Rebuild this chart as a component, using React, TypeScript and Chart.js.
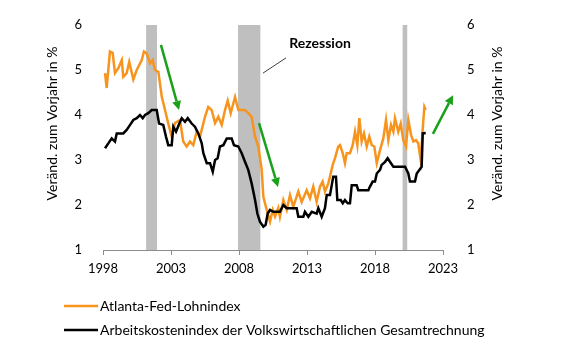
import React, { useEffect, useRef } from "react";
import { Chart, registerables } from "chart.js";

Chart.register(...registerables);

// Atlanta-Fed-Lohnindex (year, % y/y)
const atlYears = [1998.15, 1998.27, 1998.51, 1998.71, 1998.88, 1999.13, 1999.38, 1999.49, 1999.74, 1999.93, 2000.23, 2000.48, 2000.85, 2001.01, 2001.21, 2001.46, 2001.65, 2001.82, 2002.07, 2002.32, 2002.56, 2002.8, 2003.05, 2003.29, 2003.66, 2003.9, 2004.15, 2004.4, 2004.64, 2004.89, 2005.13, 2005.5, 2005.74, 2005.99, 2006.24, 2006.48, 2006.73, 2006.97, 2007.17, 2007.39, 2007.71, 2007.95, 2008.2, 2008.44, 2008.68, 2008.93, 2009.18, 2009.42, 2009.67, 2009.79, 2010.04, 2010.28, 2010.48, 2010.65, 2010.89, 2011.01, 2011.26, 2011.51, 2011.75, 2011.99, 2012.36, 2012.61, 2012.98, 2013.22, 2013.46, 2013.71, 2013.96, 2014.15, 2014.32, 2014.57, 2014.69, 2014.89, 2015.06, 2015.3, 2015.43, 2015.63, 2015.79, 2015.92, 2016.16, 2016.36, 2016.53, 2016.7, 2016.85, 2017.02, 2017.19, 2017.39, 2017.58, 2017.76, 2017.95, 2018.13, 2018.37, 2018.61, 2018.81, 2018.98, 2019.18, 2019.35, 2019.47, 2019.71, 2019.89, 2020.08, 2020.28, 2020.45, 2020.65, 2020.82, 2021.01, 2021.18, 2021.36, 2021.51, 2021.63, 2021.73];
const atlValues = [4.93, 4.6, 5.41, 5.38, 4.93, 5.04, 5.22, 4.85, 4.93, 5.18, 4.79, 5.0, 5.22, 5.41, 5.37, 5.15, 5.22, 5.0, 4.96, 4.41, 4.11, 3.81, 3.52, 3.82, 3.89, 3.41, 3.3, 3.41, 3.33, 3.63, 3.52, 3.96, 4.18, 4.11, 3.82, 3.96, 3.78, 4.11, 4.32, 4.04, 4.4, 4.11, 4.11, 4.11, 4.04, 3.96, 3.52, 3.3, 2.78, 2.18, 1.89, 1.63, 1.89, 1.74, 1.93, 1.74, 2.11, 1.89, 2.22, 1.96, 2.3, 2.07, 2.33, 2.15, 2.41, 2.07, 2.41, 2.52, 2.3, 2.48, 2.63, 2.89, 3.04, 3.3, 3.33, 3.15, 2.93, 3.15, 3.15, 3.33, 3.63, 3.33, 3.93, 3.41, 3.59, 3.3, 3.52, 3.33, 3.3, 2.93, 3.22, 3.48, 3.89, 3.44, 3.78, 3.63, 3.93, 3.63, 3.81, 3.44, 3.3, 3.89, 3.56, 3.41, 3.44, 3.37, 3.0, 3.7, 4.18, 4.11];

// Arbeitskostenindex der VGR (year, % y/y)
const ecYears = [1998.15, 1998.39, 1998.64, 1998.88, 1999.01, 1999.49, 1999.74, 1999.99, 2000.23, 2000.48, 2000.72, 2000.92, 2001.09, 2001.33, 2001.58, 2001.95, 2002.12, 2002.43, 2002.63, 2002.8, 2003.05, 2003.17, 2003.37, 2003.61, 2003.79, 2004.03, 2004.23, 2004.52, 2004.76, 2005.01, 2005.26, 2005.38, 2005.63, 2005.87, 2006.07, 2006.24, 2006.43, 2006.6, 2006.85, 2007.1, 2007.46, 2007.63, 2007.95, 2008.2, 2008.44, 2008.68, 2008.93, 2009.18, 2009.35, 2009.54, 2009.79, 2009.96, 2010.11, 2010.28, 2010.52, 2011.01, 2011.26, 2011.51, 2012.24, 2012.36, 2012.73, 2012.85, 2013.1, 2013.35, 2013.71, 2013.83, 2014.08, 2014.32, 2014.45, 2014.69, 2014.93, 2015.13, 2015.23, 2015.48, 2015.63, 2015.79, 2015.99, 2016.16, 2016.29, 2016.65, 2016.77, 2017.51, 2017.63, 2017.83, 2018.0, 2018.13, 2018.37, 2018.49, 2018.74, 2018.93, 2019.1, 2019.35, 2020.21, 2020.45, 2020.57, 2020.94, 2021.07, 2021.26, 2021.43, 2021.51, 2021.73];
const ecValues = [3.26, 3.37, 3.48, 3.41, 3.59, 3.59, 3.67, 3.78, 3.89, 3.93, 4.0, 3.93, 4.0, 4.04, 4.11, 4.11, 3.81, 3.78, 3.52, 3.33, 3.33, 3.74, 3.63, 3.81, 3.93, 3.85, 3.93, 3.81, 3.74, 3.59, 3.37, 3.15, 2.93, 2.93, 2.74, 3.0, 3.04, 3.3, 3.33, 3.48, 3.48, 3.33, 3.3, 3.15, 2.96, 2.78, 2.48, 2.11, 1.81, 1.63, 1.52, 1.56, 1.81, 1.89, 1.85, 1.85, 2.0, 1.93, 1.93, 1.74, 1.74, 1.85, 1.74, 1.85, 1.81, 1.93, 1.74, 1.93, 2.22, 2.22, 2.63, 2.63, 2.11, 2.11, 2.04, 2.11, 2.04, 2.04, 2.44, 2.44, 2.33, 2.33, 2.41, 2.52, 2.52, 2.7, 2.78, 2.89, 2.96, 3.04, 2.96, 2.85, 2.85, 2.7, 2.52, 2.52, 2.7, 2.78, 2.85, 3.59, 3.6];

const recessionStarts = [2001.17, 2007.93, 2020.03];
const recessionEnds = [2001.97, 2009.57, 2020.37];

const xMin = 1998;
const xMax = 2023;
const yMin = 1;
const yMax = 6;

// arrows: [x0, y0, x1, y1] in data units
const arrows = [
  [2002.26, 5.56, 2003.59, 4.11],
  [2009.47, 3.82, 2010.87, 2.4],
  [2022.26, 3.58, 2023.74, 4.44],
];
const annotationLabel = "Rezession";
const annotationPos = [2013.96, 5.58];
const leaderLine = [2009.76, 4.93, 2011.46, 5.27];

const axisTitle = "Veränd. zum Vorjahr in %";
const seriesNames = ["Atlanta-Fed-Lohnindex", "Arbeitskostenindex der Volkswirtschaftlichen Gesamtrechnung"];
const seriesColors = ["#F7941D", "#000000"];

const FONT = "Lato, 'Open Sans', sans-serif";

export default function App() {
  const ref = useRef<HTMLCanvasElement | null>(null);
  useEffect(() => {
    document.body.style.margin = "0";
    const canvas = ref.current!;
    const overlay = {
      id: "overlay",
      beforeDatasetsDraw(chart: any) {
        const { ctx, chartArea, scales } = chart;
        const x = scales.x;
        ctx.save();
        ctx.fillStyle = "#BFBFBF";
        for (let i = 0; i < recessionStarts.length; i++) {
          const a = x.getPixelForValue(recessionStarts[i]);
          const b = x.getPixelForValue(recessionEnds[i]);
          ctx.fillRect(a, chartArea.top, b - a, chartArea.bottom - chartArea.top);
        }
        ctx.restore();
      },
      afterDraw(chart: any) {
        const { ctx, scales, chartArea } = chart;
        const x = scales.x;
        const y = scales.y;
        ctx.save();
        // arrows
        ctx.strokeStyle = "#1AA01A";
        ctx.fillStyle = "#1AA01A";
        ctx.lineWidth = 2.5;
        for (const [a0, b0, a1, b1] of arrows) {
          const x0 = x.getPixelForValue(a0), y0 = y.getPixelForValue(b0);
          const x1 = x.getPixelForValue(a1), y1 = y.getPixelForValue(b1);
          const ang = Math.atan2(y1 - y0, x1 - x0);
          const hl = 9, hw = 4.5;
          const bx = x1 - hl * Math.cos(ang), by = y1 - hl * Math.sin(ang);
          ctx.beginPath();
          ctx.moveTo(x0, y0);
          ctx.lineTo(bx, by);
          ctx.stroke();
          ctx.beginPath();
          ctx.moveTo(x1, y1);
          ctx.lineTo(bx + hw * Math.sin(ang), by - hw * Math.cos(ang));
          ctx.lineTo(bx - hw * Math.sin(ang), by + hw * Math.cos(ang));
          ctx.closePath();
          ctx.fill();
        }
        // leader line
        ctx.strokeStyle = "#404040";
        ctx.lineWidth = 1;
        ctx.beginPath();
        ctx.moveTo(x.getPixelForValue(leaderLine[0]), y.getPixelForValue(leaderLine[1]));
        ctx.lineTo(x.getPixelForValue(leaderLine[2]), y.getPixelForValue(leaderLine[3]));
        ctx.stroke();
        // annotation
        ctx.fillStyle = "#000";
        ctx.font = `bold 14px ${FONT}`;
        ctx.textAlign = "center";
        ctx.textBaseline = "middle";
        ctx.fillText(annotationLabel, x.getPixelForValue(annotationPos[0]), y.getPixelForValue(annotationPos[1]));
        // axis titles
        ctx.font = `14px ${FONT}`;
        const midY = (chartArea.top + chartArea.bottom) / 2 - 14;
        for (const cx of [52, 497]) {
          ctx.save();
          ctx.translate(cx, midY);
          ctx.rotate(-Math.PI / 2);
          ctx.fillText(axisTitle, 0, 0);
          ctx.restore();
        }
        // legend
        ctx.textAlign = "left";
        const ly = [306, 330];
        for (let i = 0; i < 2; i++) {
          ctx.strokeStyle = seriesColors[i];
          ctx.lineWidth = 2.5;
          ctx.beginPath();
          ctx.moveTo(64, ly[i]);
          ctx.lineTo(98, ly[i]);
          ctx.stroke();
          ctx.fillStyle = "#000";
          ctx.fillText(seriesNames[i], 100, ly[i]);
        }
        ctx.restore();
      },
    };
    const chart = new Chart(canvas, {
      type: "line",
      data: {
        datasets: [
          {
            label: seriesNames[0],
            data: atlYears.map((t, i) => ({ x: t, y: atlValues[i] })),
            borderColor: seriesColors[0],
            borderWidth: 2.5,
            pointRadius: 0,
            tension: 0,
            order: 2,
          },
          {
            label: seriesNames[1],
            data: ecYears.map((t, i) => ({ x: t, y: ecValues[i] })),
            borderColor: seriesColors[1],
            borderWidth: 2.5,
            pointRadius: 0,
            tension: 0,
            order: 1,
          },
        ],
      },
      options: {
        responsive: false,
        animation: false,
        devicePixelRatio: 1,
        layout: { padding: { top: 25, left: 0, right: 0, bottom: 0 } },
        plugins: { legend: { display: false }, tooltip: { enabled: false } },
        scales: {
          x: {
            type: "linear",
            min: xMin,
            max: xMax,
            afterFit: (s: any) => { s.height = 102; },
            afterBuildTicks: (s: any) => {
              const t = [];
              for (let v = xMin; v <= xMax; v += 5) t.push({ value: v });
              s.ticks = t;
            },
            ticks: {
              callback: (v: any) => String(v),
              color: "#000",
              font: { family: FONT, size: 13 },
              padding: 6,
              maxRotation: 0,
            },
            grid: { drawOnChartArea: false, drawTicks: true, tickLength: 5, color: "#8C8C8C" },
            border: { display: true, color: "#8C8C8C", width: 1 },
          },
          y: {
            position: "left",
            min: yMin,
            max: yMax,
            afterFit: (s: any) => { s.width = 103; },
            ticks: { stepSize: 1, color: "#000", font: { family: FONT, size: 13 }, padding: 13 },
            grid: { display: false },
            border: { display: false },
          },
          y2: {
            position: "right",
            min: yMin,
            max: yMax,
            afterFit: (s: any) => { s.width = 125; },
            ticks: { stepSize: 1, color: "#000", font: { family: FONT, size: 13 }, padding: 16 },
            grid: { display: false },
            border: { display: false },
          },
        },
      },
      plugins: [overlay],
    });
    return () => chart.destroy();
  }, []);
  return <canvas ref={ref} width={568} height={352} style={{ display: "block" }} />;
}
